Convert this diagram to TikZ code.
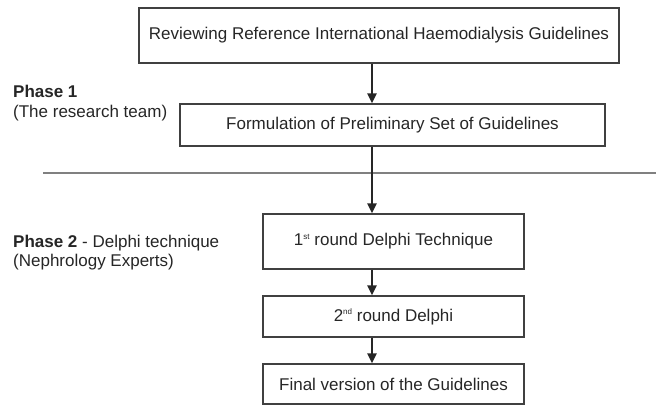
\documentclass[tikz,border=0pt]{standalone}
\usepackage{fontspec}
\setmainfont{Liberation Sans}
\usetikzlibrary{arrows.meta}

\newcommand{\supsc}[1]{\raisebox{0.75ex}{\fontsize{8}{8}\selectfont #1}}

\begin{document}
\begin{tikzpicture}[x=1pt, y=-1pt,
    box/.style={draw=black!75, line width=1.2pt, text=black!85, inner sep=0pt, font=\fontsize{17}{20}\selectfont},
    phase/.style={anchor=west, align=left, text=black!85, inner sep=0pt, font=\fontsize{17}{19.5}\selectfont},
    flow/.style={-{Triangle[length=10pt, width=9pt]}, line width=2pt, black!85}]
        \useasboundingbox (0,0) rectangle (656,405);

        \node (review) at (379,35.5)[box, minimum width=480, minimum height=55] {Reviewing Reference International Haemodialysis Guidelines};
        \node (prelim) at (392.5,125)[box, minimum width=425, minimum height=42] {Formulation of Preliminary Set of Guidelines};
        \node (round-one) at (393.5,241.5)[box, minimum width=261, minimum height=55] {1\supsc{st} round Delphi Technique};
        \node (round-two) at (393.5,316.5)[box, minimum width=261, minimum height=41] {2\supsc{nd} round Delphi};
        \node (final) at (393.5,384)[box, minimum width=261, minimum height=40] {Final version of the Guidelines};

        \node (phase-one) at (13,103)[phase] {\textbf{Phase 1}\\(The research team)};
        \node (phase-two) at (13,252.5)[phase] {\textbf{Phase 2} - Delphi technique\\(Nephrology Experts)};

        % phase divider
        \draw[black!50, line width=2pt] (43,173) -- (656,173);

        \coordinate (spine) at (372,0);
        \draw[flow] (review.south -| spine) -- (prelim.north -| spine);
        \draw[flow] (prelim.south -| spine) -- (round-one.north -| spine);
        \draw[flow] (round-one.south -| spine) -- (round-two.north -| spine);
        \draw[flow] (round-two.south -| spine) -- (final.north -| spine);
    \end{tikzpicture}
\end{document}
